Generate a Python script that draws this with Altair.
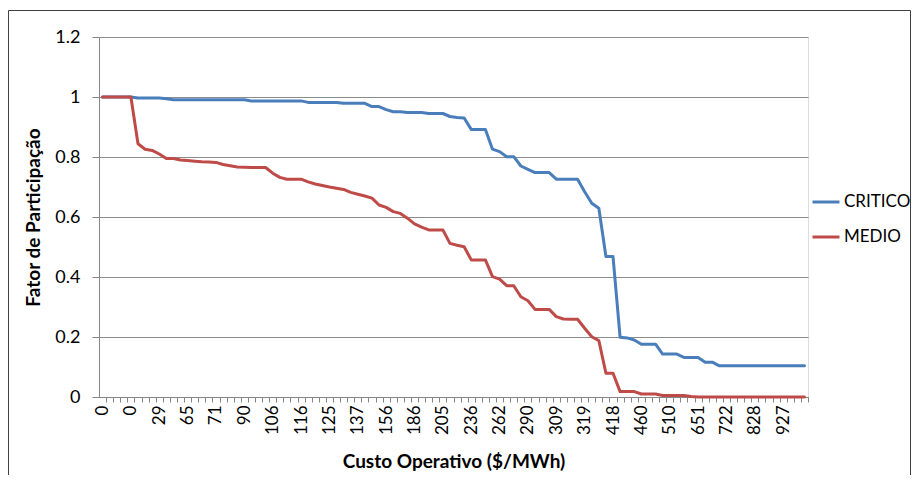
import json
import altair as alt
import pandas as pd

# x-axis category labels (one label every 4 categories, 100 categories in total)
cost_labels = ["0", "0", "29", "65", "71", "90", "106", "116", "125", "137", "156",
               "186", "205", "236", "262", "290", "309", "319", "418", "460", "510",
               "651", "722", "828", "927"]

series_names = ["CRITICO", "MEDIO"]
series_colors = ["#4A7EBB", "#BE4B48"]

critico = [
    1.0, 1.0, 1.0, 1.0, 1.0, 0.997, 0.997, 0.997, 0.997, 0.994,
    0.991, 0.991, 0.991, 0.991, 0.991, 0.991, 0.991, 0.991, 0.991, 0.991,
    0.991, 0.987, 0.987, 0.987, 0.987, 0.987, 0.987, 0.987, 0.987, 0.982,
    0.982, 0.982, 0.982, 0.982, 0.979, 0.979, 0.979, 0.979, 0.968, 0.968,
    0.958, 0.951, 0.951, 0.948, 0.948, 0.948, 0.945, 0.945, 0.945, 0.935,
    0.932, 0.930, 0.892, 0.892, 0.892, 0.826, 0.818, 0.801, 0.801, 0.770,
    0.759, 0.748, 0.748, 0.748, 0.726, 0.726, 0.726, 0.726, 0.684, 0.646,
    0.629, 0.468, 0.468, 0.199, 0.197, 0.190, 0.176, 0.176, 0.176, 0.143,
    0.143, 0.143, 0.132, 0.132, 0.132, 0.116, 0.116, 0.104, 0.104, 0.104,
    0.104, 0.104, 0.104, 0.104, 0.104, 0.104, 0.104, 0.104, 0.104, 0.104,
]

medio = [
    1.0, 1.0, 1.0, 1.0, 1.0, 0.844, 0.826, 0.822, 0.810, 0.795,
    0.795, 0.790, 0.788, 0.786, 0.784, 0.783, 0.782, 0.775, 0.771, 0.767,
    0.766, 0.765, 0.765, 0.765, 0.746, 0.732, 0.726, 0.726, 0.726, 0.717,
    0.710, 0.705, 0.700, 0.696, 0.692, 0.682, 0.676, 0.670, 0.663, 0.640,
    0.632, 0.618, 0.612, 0.596, 0.577, 0.566, 0.557, 0.557, 0.557, 0.512,
    0.506, 0.501, 0.457, 0.457, 0.457, 0.401, 0.393, 0.371, 0.371, 0.334,
    0.321, 0.292, 0.292, 0.292, 0.268, 0.260, 0.259, 0.259, 0.229, 0.201,
    0.188, 0.079, 0.079, 0.018, 0.018, 0.018, 0.010, 0.010, 0.010, 0.005,
    0.005, 0.005, 0.005, 0.002, 0.0, 0.0, 0.0, 0.0, 0.0, 0.0,
    0.0, 0.0, 0.0, 0.0, 0.0, 0.0, 0.0, 0.0, 0.0, 0.0,
]

rows = []
for name, vals in zip(series_names, [critico, medio]):
    for i, v in enumerate(vals):
        rows.append({"idx": i, "serie": name, "valor": v})
df = pd.DataFrame(rows)

FONT = "Lato"
N = len(critico)
W, H = 709, 360
band = W / N
PAD_L, PAD_T, PAD_R, PAD_B = 91, 29, 103, 78

label_js = json.dumps(cost_labels)

lines = alt.Chart(df).mark_line(strokeWidth=3, strokeJoin="round", strokeCap="round").encode(
    x=alt.X(
        "idx:Q",
        scale=alt.Scale(domain=[-0.5, N - 0.5], nice=False, zero=False),
        axis=alt.Axis(
            title="Custo Operativo ($/MWh)",
            values=list(range(N)),
            labelExpr=f"datum.value % 4 == 0 ? {label_js}[datum.value / 4] : ''",
            labelAngle=-90,
            labelOverlap=False,
            labelFlush=False,
            labelFont=FONT,
            labelFontSize=17,
            labelColor="#000000",
            labelPadding=3,
            tickOffset=band / 2,
            labelOffset=-band / 2,
            tickSize=5,
            tickColor="#868686",
            domainColor="#868686",
            grid=False,
            titleFont=FONT,
            titleFontSize=19,
            titleFontWeight="bold",
            titleColor="#000000",
            titleBaseline="middle",
            titleY=64,
            titleX=W / 2,
        ),
    ),
    y=alt.Y(
        "valor:Q",
        scale=alt.Scale(domain=[0, 1.2], nice=False, zero=True),
        axis=alt.Axis(
            title="Fator de Participação",
            values=[0, 0.2, 0.4, 0.6, 0.8, 1.0, 1.2],
            format="~g",
            labelFont=FONT,
            labelFontSize=18,
            labelColor="#000000",
            labelPadding=12,
            tickSize=7,
            tickColor="#868686",
            domainColor="#868686",
            grid=True,
            gridColor="#8c8c8c",
            gridWidth=1,
            titleFont=FONT,
            titleFontSize=19,
            titleFontWeight="bold",
            titleColor="#000000",
            titleAngle=-90,
            titleBaseline="middle",
            titleX=-66,
            titleY=H / 2,
        ),
    ),
    color=alt.Color(
        "serie:N",
        scale=alt.Scale(domain=series_names, range=series_colors),
        legend=alt.Legend(
            title=None,
            orient="none",
            legendX=712,
            legendY=150,
            symbolType="stroke",
            symbolSize=729,
            symbolStrokeWidth=3,
            labelFont=FONT,
            labelFontSize=17,
            labelColor="#000000",
            labelOffset=3,
            rowPadding=12,
        ),
    ),
    order="idx:Q",
)

border = alt.Chart(pd.DataFrame({"k": [0]})).mark_rect(
    fillOpacity=0, stroke="#404040", strokeWidth=1
).encode(
    x=alt.value(0.5 - PAD_L),
    x2=alt.value(W + PAD_R - 0.5),
    y=alt.value(2.5 - PAD_T),
    y2=alt.value(H + PAD_B + 40),
)

chart = alt.layer(lines, border).properties(
    width=W,
    height=H,
    padding={"left": PAD_L, "top": PAD_T, "right": PAD_R, "bottom": PAD_B},
    autosize=alt.AutoSizeParams(type="none"),
).configure_view(stroke=None).configure(background="#ffffff")

chart.save("out.html", embed_options={"renderer": "svg", "actions": False})
